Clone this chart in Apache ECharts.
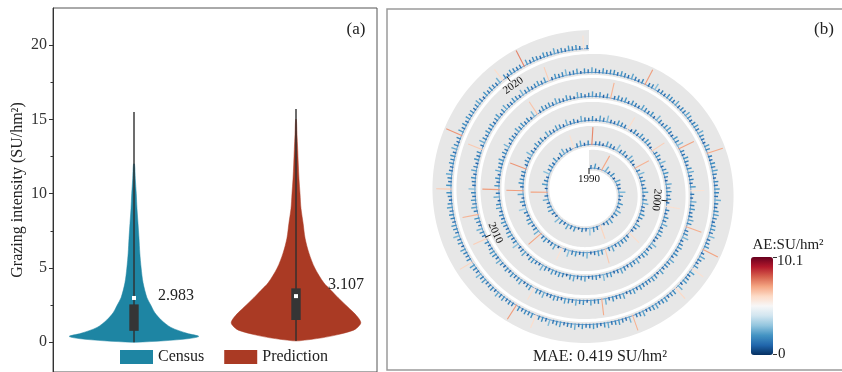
<!DOCTYPE html>
<html>
<head>
<meta charset="utf-8">
<script src="https://cdn.jsdelivr.net/npm/echarts@6/dist/echarts.min.js"></script>
<style>
html, body { margin: 0; padding: 0; background: #fff; }
#main { width: 842px; height: 372px; }
</style>
</head>
<body>
<div id="main"></div>
<script>
// ---- (a) violin data ----
var groups = ['Census', 'Prediction'];
var means = [2.983, 3.107];
var boxLow = [0.77, 1.5];
var boxHigh = [2.55, 3.63];
var whiskerLow = [0, 0.1];
var whiskerHigh = [15.5, 15.7];
var censusLevels = [0, 0.1, 0.25, 0.4, 0.6, 1.0, 1.5, 2.0, 2.5, 3.0, 4, 5, 6, 7, 8, 9, 10, 11, 12];
var censusDensity = [0.03, 0.46, 0.85, 1, 0.82, 0.57, 0.42, 0.32, 0.26, 0.2, 0.14, 0.11, 0.09, 0.077, 0.062, 0.046, 0.035, 0.02, 0.008];
var predLevels = [0.1, 0.3, 0.5, 0.8, 1.0, 1.3, 1.6, 2.0, 2.5, 3.0, 3.5, 4, 5, 6, 7, 8, 9, 10, 11, 12, 13, 14, 15];
var predDensity = [0.05, 0.4, 0.63, 0.88, 0.95, 1, 0.97, 0.89, 0.77, 0.65, 0.54, 0.43, 0.29, 0.2, 0.14, 0.11, 0.077, 0.062, 0.046, 0.035, 0.026, 0.015, 0.006];
var yMajor = [0, 5, 10, 15, 20];
var yMinor = [2.5, 7.5, 12.5, 17.5];

// ---- (b) spiral of absolute errors ----
var aeBase = [
    1.4,2.1,0.9,1.7,2.6,1.2,1.9,0.8,2.3,1.5,1.1,2.8,1.6,0.9,2.0,1.3,2.4,1.8,1.0,2.2,
    1.7,0.8,2.5,1.4,1.9,3.1,1.2,1.6,0.7,2.0,1.5,2.3,1.1,1.8,2.7,0.9,1.4,2.1,1.6,1.2,
    2.4,1.3,1.8,0.9,2.2,1.6,1.0,2.9,1.5,1.9,1.2,2.1,0.8,1.7,2.5,1.4,1.1,2.0,1.6,2.3,
    1.0,1.8,2.6,1.3,1.5,0.9,2.2,1.7,1.2,3.0,1.4,1.9,1.1,2.4,1.6,0.8,2.0,1.5,2.7,1.3,
    1.9,1.1,1.6,2.3,0.9,1.8,2.5,1.2,1.4,2.0,1.7,0.8,2.2,1.5,1.0,2.8,1.3,1.9,1.6,2.1,
    1.2,2.4,1.5,1.0,1.9,2.2,1.4,0.9,2.6,1.7,1.1,2.0,1.6,2.9,1.3,1.8,0.8,2.3,1.5,1.1,
    2.0,1.4,0.9,2.5,1.6,1.2,2.1,1.8,1.0,1.5,3.2,1.3,1.9,0.9,2.4,1.6,1.2,2.0,1.7,1.4,
    1.6,2.2,1.1,1.8,1.3,2.7,1.5,1.0,2.0,1.4,1.9,0.8,2.3,1.6,1.2,2.1,1.7,1.0,2.5,1.3,
    1.8,1.0,2.4,1.5,1.2,1.9,0.9,2.2,1.6,2.8,1.3,1.1,2.0,1.7,1.4,2.6,0.9,1.8,1.2,2.1,
    1.3,2.0,1.6,0.8,2.3,1.5,1.9,1.2,2.7,1.0,1.7,2.1,1.4,0.9,2.4,1.6,2.0,1.3,1.8,1.1,
    2.2,1.5,1.0,1.9,1.4,2.5,1.1,1.7,2.0,1.3,0.9,2.6,1.6,1.2,2.1,1.8,1.0,2.3,1.5,1.9,
    1.1,1.7,2.3,1.4,0.9,2.0,1.6,2.8,1.2,1.8,1.5,1.0,2.2,1.7,1.3,2.4,1.9,0.8,1.6,2.0,
    1.5,2.1,1.2,1.8,2.6,1.0,1.4,2.0,1.7,0.9,2.3,1.5,1.1,2.9,1.6,1.3,2.1,1.8,1.2,1.6,
    2.0,1.3,1.7,1.1,2.2,1.8,0.9,2.5,1.4,1.6,2.0,1.2,1.9,1.0,2.4,1.5,1.7,2.2,1.1,1.8,
    1.4,2.6,1.0,1.9,1.5,1.2,2.3,1.6,2.0,1.3,1.8,0.9,2.7,1.4,1.1,2.0,1.6,1.9,1.3,2.4,
    1.7,1.2,2.1,1.5,0.8,2.4,1.8,1.1,1.6,2.2,1.4,2.0,1.0,1.7,2.5,1.3,1.9,1.5,2.1,1.0,
    1.9,1.5,1.1,2.3,1.7,1.3,2.0,0.9,2.6,1.6,1.2,1.8,2.2,1.4,1.0,2.1,1.7,2.8,1.3,1.6,
    1.2,2.0,1.6,1.0,1.9,2.5,1.3,1.7,1.1,2.2,1.8,1.4,0.9,2.4,1.6,2.0,1.2,1.5,2.3,1.8,
    2.1,1.4,1.8,2.7,1.1,1.6,2.0,1.3,1.9,1.0,2.4,1.5,1.7,1.2,2.2,0.9,1.8,2.0,1.4,1.6,
    1.5,1.9,1.2,2.1,1.6,0.8,2.3,1.7,1.4,2.0,1.1,2.6,1.3,1.8,1.5,2.2,1.0,1.9,1.6,2.4,
    1.3,1.8,2.2,1.0,1.7,2.0,1.4,1.1,2.5,1.6,1.9,1.2,2.1,1.5,0.9,2.3,1.7,1.4,2.0,1.2,
    1.8,1.1,1.6,2.4,1.3,1.9,2.1,1.5,1.0,1.7,2.2,1.4,1.8,2.6,1.2,1.6,2.0,1.1,1.5,2.3,
    1.6,2.0,1.3,1.7,2.8,1.2,1.5,1.9,1.1,2.3,1.6,1.0,2.0,1.4,1.8,2.1,1.3,2.5,1.7,1.2,
    2.0,1.5,1.9,1.2,1.6,2.2,1.0,1.8,2.4,1.4,1.3,2.0,1.7,1.1,2.6,1.5,1.9,1.2,1.6,2.1,
    1.4,2.2,1.7,1.1,2.0,1.5,1.8,2.7,1.3,1.6,2.1,0.9,1.9,1.4,2.3,1.7,1.2,2.0,1.5,1.8,
    1.9,1.3,2.1,1.6,1.2,2.4,1.5,1.0,1.8,2.2,1.4,1.7,2.9,1.3,1.6,1.1,2.0,1.8,1.4,2.3,
    1.2,1.7,1.5,2.3,1.9,1.1,1.6,2.0,1.4,2.5,1.8,1.3,1.0,2.1,1.7,2.4,1.5,1.2,1.9,1.6,
    2.3,1.6,1.0,1.8,1.4,2.1,1.7,1.3,2.6,1.5,1.2,1.9,2.2,1.6,1.1,1.8,2.0,1.4,2.7,1.3,
    1.5,2.0,1.8,1.2,2.4,1.6,1.1,1.9,1.5,2.2,1.3,1.7,2.0,1.0,2.5,1.4,1.8,1.6,1.2,2.1,
    1.7,1.3,2.2,1.9,1.5,1.0,2.3,1.6,1.4,1.8,2.6,1.2,1.5,2.1,1.7,1.3,2.4,1.9,1.1,1.6,
    2.1,1.6,1.4,2.0,1.2,2.5,1.8,1.5,1.1,2.2,1.7,1.4,2.8,1.3,1.9,1.6,1.0,2.0,1.5,1.8,
    1.3,1.9,2.4,1.5,1.7,1.2,2.0,1.6,2.3,1.1,1.8,1.5,1.3,2.1,1.6,2.6,1.4,1.7,2.2,1.2,
    1.8,1.4,1.6,2.2,1.0,1.9,1.5,2.7,1.3,1.7,2.0,1.2,1.6,1.9,1.4,2.3,1.8,1.1,1.5,2.0,
    1.6,2.1,1.3,1.7,2.5,1.4,1.2,1.9,1.6,2.0,1.3,2.4,1.8,1.1,1.7,1.5,2.2,1.4,1.9,1.3,
    2.0,1.5,1.8,1.2,1.6,2.3,1.7,1.0,2.1,1.4,1.9,1.6,1.3,2.6,1.5,1.8,1.2,2.0,1.7,1.4,
    1.5,1.8,2.2,1.3,1.9,1.6,1.1,2.0,1.7,1.4,2.4,1.5,1.8,1.2,2.1,1.6,1.9,1.3,1.7,1.5
];
var spikeIndex = [3, 22, 42, 57, 62, 76, 95, 103, 115, 122, 135, 141, 175, 184, 200, 269, 293, 314, 338, 350,
    360, 392, 411, 430, 437, 455, 482, 509, 535, 562, 568, 575, 589, 616, 622, 639, 660, 675, 694, 701, 718];
var spikeAE = [7.0, 6.2, 7.1, 5.9, 7.5, 6.8, 6.0, 6.4, 5.8, 7.1, 7.2, 7.3, 6.0, 6.3, 5.9, 7.2, 6.5, 6.8, 7.1, 5.8,
    6.9, 7.0, 5.9, 6.3, 6.8, 6.4, 6.3, 7.2, 7.0, 7.1, 5.9, 6.1, 6.8, 6.0, 7.2, 6.2, 6.4, 7.3, 6.0, 7.6, 5.8];
var yearTicks = [1990, 2000, 2010, 2020];
var yearIndex = [0, 199, 431, 696];
var aeRange = [0, 10.1];
var mae = 0.419;

var SERIF = 'Liberation Serif';
var colors = ['#1e85a3', '#aa3a24'];

// spiral layout
var TURNS = 5, R_IN = 21.5, PITCH = 24, BAND = 21, BASE_OFF = 2.5, BAR_SCALE = 2.3;
var N = aeBase.length;
var RB = R_IN + BASE_OFF;
var ARC_TOTAL = RB * TURNS + PITCH * TURNS * TURNS / 2;
function turnAt(pos) {
    var s = pos / N * ARC_TOTAL;
    return (-RB + Math.sqrt(RB * RB + 2 * PITCH * s)) / PITCH;
}
function angleOf(t) { return (t - Math.floor(t)) * 360; }

var aeData = aeBase.map(function (v, i) { return [i, v]; });
spikeIndex.forEach(function (k, j) { aeData[k][1] = spikeAE[j]; });

var VIOLIN_HALF = 0.4, BOX_HALF = 0.029;
var profiles = [[censusLevels, censusDensity], [predLevels, predDensity]];
var labelOffset = [[24, -2], [32, -11]];

function violinItem(k) {
    return function (params, api) {
        var x = api.value(0);
        var lv = profiles[k][0], dn = profiles[k][1];
        var pts = [];
        for (var i = 0; i < lv.length; i++) pts.push(api.coord([x + dn[i] * VIOLIN_HALF, lv[i]]));
        for (var j = lv.length - 1; j >= 0; j--) pts.push(api.coord([x - dn[j] * VIOLIN_HALF, lv[j]]));
        var wl = api.coord([x, whiskerLow[k]]), wh = api.coord([x, whiskerHigh[k]]);
        var b1 = api.coord([x - BOX_HALF, boxHigh[k]]), b2 = api.coord([x + BOX_HALF, boxLow[k]]);
        var m = api.coord([x, means[k]]);
        return {
            type: 'group',
            children: [
                { type: 'polygon', shape: { points: pts, smooth: 0.3 }, style: { fill: colors[k], stroke: colors[k], lineWidth: 0.5 } },
                { type: 'line', shape: { x1: wl[0], y1: wl[1], x2: wh[0], y2: wh[1] }, style: { stroke: '#2f2f2f', lineWidth: 1.4 } },
                { type: 'rect', shape: { x: b1[0], y: b1[1], width: b2[0] - b1[0], height: b2[1] - b1[1] }, style: { fill: '#353535' } },
                { type: 'rect', shape: { x: m[0] - 2, y: m[1] - 2, width: 4, height: 4 }, style: { fill: '#ffffff' } },
                { type: 'text', x: m[0] + labelOffset[k][0], y: m[1] + labelOffset[k][1],
                  style: { text: means[k].toFixed(3), font: '16px ' + SERIF, fill: '#222', align: 'left', verticalAlign: 'middle' } }
            ]
        };
    };
}

function bandItem(params, api) {
    var inner = [], outer = [], base = [];
    for (var t = 0; t <= TURNS + 1e-9; t += 0.004) {
        var a = angleOf(t);
        if (t > TURNS - 1e-6) a = 359.999;
        inner.push(api.coord([R_IN + PITCH * t, a]));
        outer.push(api.coord([R_IN + PITCH * t + BAND, a]));
        base.push(api.coord([R_IN + PITCH * t + BASE_OFF, a]));
    }
    return {
        type: 'group',
        children: [
            { type: 'polygon', shape: { points: inner.concat(outer.reverse()) }, style: { fill: '#e7e7e7' } },
            { type: 'polyline', shape: { points: base }, style: { stroke: '#4a86c4', lineWidth: 0.8, fill: null } }
        ]
    };
}

function barItem(params, api) {
    var i = api.value(0), v = api.value(1);
    var t = turnAt(i + 0.5);
    var a = angleOf(t);
    var r0 = R_IN + PITCH * t + BASE_OFF;
    var p1 = api.coord([r0 - 0.8, a]);
    var p2 = api.coord([r0 + v * BAR_SCALE, a]);
    return {
        type: 'line',
        shape: { x1: p1[0], y1: p1[1], x2: p2[0], y2: p2[1] },
        style: { stroke: api.visual('color'), lineWidth: v > 4 ? 1.1 : 1.4 }
    };
}

function tickItem(params, api) {
    var t = turnAt(api.value(0));
    var a = angleOf(t);
    var rin = R_IN + PITCH * t;
    var p1 = api.coord([rin - 3, a]), p2 = api.coord([rin + 3, a]);
    var lp = api.coord([rin - 8, a]);
    var rot = -a * Math.PI / 180;
    if (a > 100 && a < 280) rot = -(a - 180) * Math.PI / 180;
    return {
        type: 'group',
        children: [
            { type: 'line', shape: { x1: p1[0], y1: p1[1], x2: p2[0], y2: p2[1] }, style: { stroke: '#111', lineWidth: 1 } },
            { type: 'text', x: lp[0], y: lp[1], rotation: rot,
              style: { text: String(api.value(1)), font: '11px ' + SERIF, fill: '#111', align: 'center', verticalAlign: 'middle' } }
        ]
    };
}

var chart = echarts.init(document.getElementById('main'));
var option = {
    animation: false,
    grid: { left: 53, top: 8, width: 324, height: 364, show: true, borderColor: '#555', borderWidth: 1 },
    xAxis: { type: 'value', min: 0.5, max: 2.5, axisLine: { show: false }, axisTick: { show: false }, axisLabel: { show: false }, splitLine: { show: false } },
    yAxis: [
        {
            type: 'value', min: -2, max: 22.5,
            name: 'Grazing intensity (SU/hm²)', nameLocation: 'middle', nameGap: 27, nameRotate: 90,
            nameTextStyle: { fontFamily: SERIF, fontSize: 16, color: '#222' },
            axisLine: { show: true, lineStyle: { color: '#333' } },
            axisTick: { show: true, customValues: yMajor, length: 4, lineStyle: { color: '#333' } },
            axisLabel: { customValues: yMajor, fontFamily: SERIF, fontSize: 16, color: '#333', margin: 6 },
            splitLine: { show: false }
        },
        {
            type: 'value', min: -2, max: 22.5, position: 'left',
            axisLine: { show: false },
            axisTick: { show: true, customValues: yMinor, length: 2.5, lineStyle: { color: '#333' } },
            axisLabel: { show: false }, splitLine: { show: false }
        }
    ],
    polar: { center: [589, 192.5], radius: [0, 200] },
    radiusAxis: { show: false, min: 0, max: 200 },
    angleAxis: { show: false, min: 0, max: 360, startAngle: 90, clockwise: true },
    legend: {
        data: groups, left: 120, top: 349, icon: 'rect', itemWidth: 33, itemHeight: 14, itemGap: 20,
        textStyle: { fontFamily: SERIF, fontSize: 16, color: '#222' }, padding: 0
    },
    visualMap: {
        type: 'continuous', min: aeRange[0], max: aeRange[1], seriesIndex: 3, dimension: 1,
        left: 751, top: 257, itemWidth: 22, itemHeight: 98, padding: 0, calculable: false, text: null,
        inRange: { color: ['#053061', '#2166ac', '#4393c3', '#92c5de', '#d1e5f0', '#f7f7f7', '#fddbc7', '#f4a582', '#d6604d', '#b2182b', '#67001f'] }
    },
    graphic: [
        { type: 'rect', shape: { x: 387, y: 9, width: 470, height: 361 }, style: { fill: null, stroke: '#9a9a9a', lineWidth: 1.5 } },
        { type: 'text', x: 356, y: 30, style: { text: '(a)', font: '17px ' + SERIF, fill: '#222', align: 'center', verticalAlign: 'middle' } },
        { type: 'text', x: 824, y: 30, style: { text: '(b)', font: '17px ' + SERIF, fill: '#222', align: 'center', verticalAlign: 'middle' } },
        { type: 'text', x: 600, y: 357, style: { text: 'MAE: ' + mae.toFixed(3) + ' SU/hm²', font: '16px ' + SERIF, fill: '#222', align: 'center', verticalAlign: 'middle' } },
        { type: 'text', x: 788, y: 245, style: { text: 'AE:SU/hm²', font: '15px ' + SERIF, fill: '#222', align: 'center', verticalAlign: 'middle' } },
        { type: 'text', x: 777, y: 261, style: { text: String(aeRange[1]), font: '15px ' + SERIF, fill: '#222', align: 'left', verticalAlign: 'middle' } },
        { type: 'text', x: 778, y: 354, style: { text: String(aeRange[0]), font: '15px ' + SERIF, fill: '#222', align: 'left', verticalAlign: 'middle' } },
        { type: 'line', shape: { x1: 773, y1: 257.5, x2: 777, y2: 257.5 }, style: { stroke: '#333', lineWidth: 1 } },
        { type: 'line', shape: { x1: 773, y1: 354.5, x2: 777, y2: 354.5 }, style: { stroke: '#333', lineWidth: 1 } }
    ],
    series: [
        { name: groups[0], type: 'custom', coordinateSystem: 'cartesian2d', itemStyle: { color: colors[0] }, renderItem: violinItem(0), data: [[1, means[0]]], z: 3 },
        { name: groups[1], type: 'custom', coordinateSystem: 'cartesian2d', itemStyle: { color: colors[1] }, renderItem: violinItem(1), data: [[2, means[1]]], z: 3 },
        { name: 'band', type: 'custom', coordinateSystem: 'polar', renderItem: bandItem, data: [[0, 0]], z: 1, silent: true },
        { name: 'AE', type: 'custom', coordinateSystem: 'polar', renderItem: barItem, data: aeData, z: 2 },
        { name: 'years', type: 'custom', coordinateSystem: 'polar', renderItem: tickItem,
          data: yearTicks.map(function (y, i) { return [yearIndex[i], y]; }), z: 4 }
    ]
};
option && chart.setOption(option);
</script>
</body>
</html>
